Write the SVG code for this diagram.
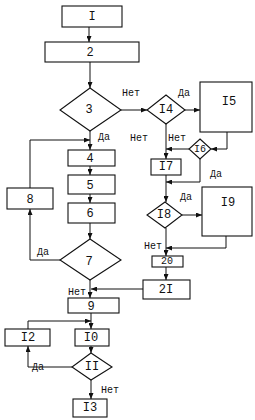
<svg xmlns="http://www.w3.org/2000/svg" width="255" height="420" viewBox="0 0 255 420">
<defs>
<marker id="ah" markerWidth="6" markerHeight="5" refX="6" refY="2.5" orient="auto" markerUnits="userSpaceOnUse">
<path d="M0,0 L6,2.5 L0,5 Z" fill="#111"/>
</marker>
<style>
.s{fill:#fff;stroke:#111;stroke-width:1.1}
.c{fill:none;stroke:#111;stroke-width:1;marker-end:url(#ah)}
.n{font-family:"Liberation Sans",Arial,sans-serif;font-size:12px;fill:#111;text-anchor:middle;dominant-baseline:central}
.m{font-family:"Liberation Mono","Courier New",monospace;font-size:12px;fill:#111;text-anchor:middle;dominant-baseline:central}
.l{font-family:"Liberation Mono","Courier New",monospace;font-size:10px;fill:#111}
</style>
</defs>
<rect width="255" height="420" fill="#fff"/>
<g id="connectors">
<path class="c" d="M89,27 V42"/>
<path class="c" d="M90,62 V88"/>
<path class="c" d="M90,131 V150"/>
<path class="c" d="M90,166 V175"/>
<path class="c" d="M90,194 V203"/>
<path class="c" d="M90,223 V239"/>
<path class="c" d="M121,110 H147"/>
<path class="c" d="M185,110 H200"/>
<path class="c" d="M227,132 V149 H211"/>
<path class="c" d="M189,149 H166"/>
<path class="c" d="M166,124 V159"/>
<path class="c" d="M200,159 V182 H166"/>
<path class="c" d="M166,175 V202"/>
<path class="c" d="M182,215 H202"/>
<path class="c" d="M226,236 V248 H166"/>
<path class="c" d="M166,228 V256"/>
<path class="c" d="M166,267 V280"/>
<path class="c" d="M143,289 H91"/>
<path class="c" d="M90,280 V298"/>
<path class="c" d="M60,260 H30 V209"/>
<path class="c" d="M30,188 V140 H90"/>
<path class="c" d="M91,313 V329"/>
<path class="c" d="M28,329 V321 H91"/>
<path class="c" d="M72,367 H28 V346"/>
<path class="c" d="M91,346 V353"/>
<path class="c" d="M91,380 V399"/>
</g>
<g id="labels">
<text class="l" x="122" y="96">Нет</text>
<text class="l" x="178" y="96">Да</text>
<text class="l" x="130" y="141">Нет</text>
<text class="l" x="168" y="141">Нет</text>
<text class="l" x="210" y="177">Да</text>
<text class="l" x="180" y="200">Да</text>
<text class="l" x="144" y="249">Нет</text>
<text class="l" x="98" y="140">Да</text>
<text class="l" x="37" y="255">Да</text>
<text class="l" x="68" y="295">Нет</text>
<text class="l" x="32" y="370">Да</text>
<text class="l" x="101" y="393">Нет</text>
</g>
<g id="n1"><rect class="s" x="62" y="6" width="60" height="21"/><text class="m" x="92" y="16.5">I</text></g>
<g id="n2"><rect class="s" x="45" y="42" width="94" height="20"/><text class="n" x="90" y="52">2</text></g>
<g id="n3"><polygon class="s" points="90,88 121,110 90,131 60,110"/><text class="n" x="89" y="109">3</text></g>
<g id="n4"><rect class="s" x="68" y="150" width="47" height="16"/><text class="n" x="90" y="158">4</text></g>
<g id="n5"><rect class="s" x="68" y="175" width="47" height="19"/><text class="n" x="90" y="184.5">5</text></g>
<g id="n6"><rect class="s" x="68" y="203" width="47" height="20"/><text class="n" x="90" y="213">6</text></g>
<g id="n7"><polygon class="s" points="90,239 121,260 90,280 60,260"/><text class="n" x="89" y="261">7</text></g>
<g id="n8"><rect class="s" x="7" y="188" width="46" height="21"/><text class="n" x="30" y="198.5">8</text></g>
<g id="n9"><rect class="s" x="68" y="298" width="51" height="15"/><text class="n" x="91" y="305.5">9</text></g>
<g id="n10"><rect class="s" x="75" y="329" width="34" height="17"/><text class="m" x="91" y="337.5">I0</text></g>
<g id="n11"><polygon class="s" points="91,353 112,367 91,380 72,367"/><text class="m" x="92" y="366.5">II</text></g>
<g id="n12"><rect class="s" x="5" y="329" width="45" height="17"/><text class="m" x="28" y="337.5">I2</text></g>
<g id="n13"><rect class="s" x="73" y="399" width="34" height="18"/><text class="m" x="90" y="408">I3</text></g>
<g id="n14"><polygon class="s" points="166,95 185,110 166,124 147,110"/><text class="m" x="166" y="109.5">I4</text></g>
<g id="n15"><rect class="s" x="200" y="82" width="52" height="50"/><text class="m" x="229" y="102">I5</text></g>
<g id="n16"><polygon class="s" points="200,139 211,149 200,159 189,149"/><text class="m" x="200" y="149" style="font-size:10px">I6</text></g>
<g id="n17"><rect class="s" x="151" y="159" width="30" height="16"/><text class="m" x="166" y="167">I7</text></g>
<g id="n18"><polygon class="s" points="165,202 182,215 165,228 147,215"/><text class="m" x="164" y="214.5">I8</text></g>
<g id="n19"><rect class="s" x="202" y="187" width="50" height="49"/><text class="m" x="228" y="203">I9</text></g>
<g id="n20"><rect class="s" x="152" y="256" width="31" height="11"/><text class="m" x="167" y="261.5" style="font-size:10px">20</text></g>
<g id="n21"><rect class="s" x="143" y="280" width="47" height="19"/><text class="m" x="166" y="289.5">2I</text></g>
</svg>
